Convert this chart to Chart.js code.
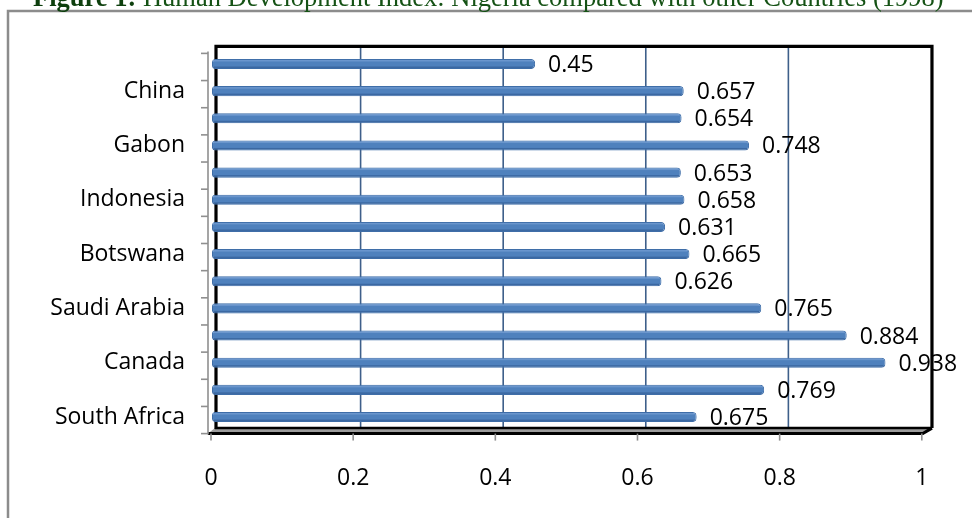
<!DOCTYPE html>
<html>
<head>
<meta charset="utf-8">
<script src="https://cdn.jsdelivr.net/npm/chart.js@4.4.1/dist/chart.umd.min.js"></script>
<style>
  html, body { margin: 0; padding: 0; background: #ffffff; }
  #wrap { position: relative; width: 972px; height: 518px; overflow: hidden; }
  canvas { display: block; }
</style>
</head>
<body>
<div id="wrap"><canvas id="hdi" width="972" height="518"></canvas></div>
<script>
// Human Development Index, listed from the top bar to the bottom bar.
// Only every second country name is printed on the axis.
const countries = ['', 'China', '', 'Gabon', '', 'Indonesia', '', 'Botswana', '', 'Saudi Arabia', '', 'Canada', '', 'South Africa'];
const hdiValues = [0.45, 0.657, 0.654, 0.748, 0.653, 0.658, 0.631, 0.665, 0.626, 0.765, 0.884, 0.938, 0.769, 0.675];
const axisTicks = [0, 0.2, 0.4, 0.6, 0.8, 1];
const axisTickLabels = ['0', '0.2', '0.4', '0.6', '0.8', '1'];
const titleLead = 'Figure 1:';
const titleRest = ' Human Development Index: Nigeria compared with other Countries (1998)';

const FONT = '"Open Sans", "Noto Sans", sans-serif';
const FONT_SIZE = 23;

// Page caption and the grey frame around the figure
const framePlugin = {
  id: 'frame',
  beforeDraw(chart) {
    const c = chart.ctx;
    c.save();
    c.fillStyle = '#ffffff';
    c.fillRect(0, 0, chart.width, chart.height);
    c.strokeStyle = '#8c8c8c';
    c.lineWidth = 2.5;
    c.beginPath();
    c.moveTo(8, chart.height + 2);
    c.lineTo(8, 11);
    c.lineTo(chart.width + 2, 11);
    c.stroke();

    c.textBaseline = 'alphabetic';
    c.textAlign = 'left';
    c.font = 'bold 26.5px "Liberation Serif", "Times New Roman", serif';
    c.fillStyle = '#0d3f0d';
    c.fillText(titleLead, 33, 6);
    const w = c.measureText(titleLead).width;
    c.font = '26.5px "Liberation Serif", "Times New Roman", serif';
    c.fillStyle = '#155215';
    c.fillText(titleRest, 33 + w, 6);
    c.restore();
  }
};

// 3-D style walls, floor, grid lines and axis ticks built on the x / y scales
const wallsPlugin = {
  id: 'walls',
  beforeDatasetsDraw(chart) {
    const c = chart.ctx;
    const xs = chart.scales.x;
    const ys = chart.scales.y;
    const left = xs.getPixelForValue(0);
    const back = v => left + 6 + (xs.getPixelForValue(v) - left) * 0.993;
    const front = v => left - 1 + (xs.getPixelForValue(v) - left) * 0.99;
    const top = chart.chartArea.top - 4;
    const floorBack = chart.chartArea.bottom - 2.5;
    const floorFront = floorBack + 5.5;

    c.save();
    // grid lines on the back wall, bending onto the floor
    c.strokeStyle = '#3e5f8a';
    c.lineWidth = 1.6;
    axisTicks.slice(1, -1).forEach(v => {
      c.beginPath();
      c.moveTo(back(v), top);
      c.lineTo(back(v), floorBack);
      c.lineTo(front(v), floorFront);
      c.stroke();
    });

    // floor slab
    c.fillStyle = '#9c9c9c';
    c.beginPath();
    c.moveTo(back(0) - 3, floorBack);
    c.lineTo(back(1) + 1, floorBack);
    c.lineTo(front(1) + 1, floorFront);
    c.lineTo(front(0) - 3, floorFront);
    c.closePath();
    c.fill();
    c.strokeStyle = '#000000';
    c.lineWidth = 2.5;
    c.beginPath();
    c.moveTo(back(0) - 3, floorBack);
    c.lineTo(back(1) + 1, floorBack);
    c.stroke();
    c.lineWidth = 3;
    c.beginPath();
    c.moveTo(front(0) - 3, floorFront);
    c.lineTo(front(1) + 1, floorFront);
    c.lineTo(back(1) + 1, floorBack);
    c.stroke();

    // back wall outline
    c.lineWidth = 3.2;
    c.beginPath();
    c.moveTo(back(0) - 2, floorBack + 1);
    c.lineTo(back(0) - 2, top);
    c.lineTo(back(1) + 1, top);
    c.lineTo(back(1) + 1, floorBack);
    c.stroke();

    // side wall edge with category ticks
    const sx = front(0) - 3;
    c.strokeStyle = '#8f8f8f';
    c.lineWidth = 1.6;
    c.beginPath();
    c.moveTo(sx, top + 5);
    c.lineTo(sx, floorFront + 1);
    c.stroke();
    const n = countries.length;
    for (let i = 0; i <= n; i++) {
      let yb;
      if (i === 0) yb = chart.chartArea.top;
      else if (i === n) yb = chart.chartArea.bottom;
      else yb = (ys.getPixelForValue(i - 1) + ys.getPixelForValue(i)) / 2;
      c.beginPath();
      c.moveTo(sx - 7, yb + 3);
      c.lineTo(sx, yb + 3);
      c.stroke();
    }

    // value-axis ticks and labels on the front edge of the floor
    c.fillStyle = '#000000';
    c.font = FONT_SIZE + 'px ' + FONT;
    c.textAlign = 'center';
    c.textBaseline = 'middle';
    axisTicks.forEach((v, i) => {
      c.strokeStyle = '#8f8f8f';
      c.beginPath();
      c.moveTo(front(v), floorFront);
      c.lineTo(front(v), floorFront + 7);
      c.stroke();
      c.fillText(axisTickLabels[i], front(v), 478);
    });
    c.restore();
  },
  afterDatasetsDraw(chart) {
    const c = chart.ctx;
    const meta = chart.getDatasetMeta(0);
    c.save();
    meta.data.forEach((bar, i) => {
      const h = bar.height;
      const y0 = bar.y - h / 2;
      // lighter rim along the top of the bar
      c.fillStyle = 'rgba(120,160,212,0.7)';
      c.fillRect(bar.base + 1, y0 + 1, bar.x - bar.base - 3, 1.5);
      // darker rim along the bottom
      c.fillStyle = 'rgba(40,80,135,0.5)';
      c.fillRect(bar.base + 1, y0 + h - 2.5, bar.x - bar.base - 3, 1.5);
      // value label
      c.fillStyle = '#000000';
      c.font = FONT_SIZE + 'px ' + FONT;
      c.textAlign = 'left';
      c.textBaseline = 'middle';
      c.fillText(String(hdiValues[i]), bar.x + 13, bar.y + 1.5);
    });
    c.restore();
  }
};

new Chart(document.getElementById('hdi'), {
  type: 'bar',
  data: {
    labels: countries,
    datasets: [{
      data: hdiValues,
      backgroundColor: '#4f81bd',
      borderColor: '#3f6ea8',
      borderWidth: 1,
      borderRadius: { topRight: 4, bottomRight: 4, topLeft: 3, bottomLeft: 3 },
      borderSkipped: false,
      barPercentage: 0.37,
      categoryPercentage: 1
    }]
  },
  options: {
    indexAxis: 'y',
    responsive: false,
    animation: false,
    devicePixelRatio: 1,
    layout: { padding: { top: 50.4, right: 42, bottom: 0, left: 0 } },
    plugins: {
      legend: { display: false },
      title: { display: false },
      tooltip: { enabled: false }
    },
    scales: {
      x: {
        type: 'linear',
        min: 0,
        max: 1,
        ticks: { display: false, stepSize: 0.2 },
        grid: { display: false },
        border: { display: false },
        afterFit(scale) { scale.height = 87.4; }
      },
      y: {
        type: 'category',
        ticks: {
          autoSkip: false,
          padding: 27,
          color: '#000000',
          font: { family: FONT, size: FONT_SIZE }
        },
        grid: { display: false, drawTicks: false },
        border: { display: false },
        afterFit(scale) { scale.width = 212; }
      }
    }
  },
  plugins: [framePlugin, wallsPlugin]
});
</script>
</body>
</html>
